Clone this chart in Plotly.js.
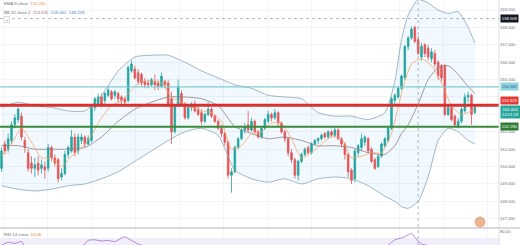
<!DOCTYPE html>
<html>
<head>
<meta charset="utf-8">
<script src="https://cdn.plot.ly/plotly-3.0.1.min.js"></script>
<style>html,body{margin:0;padding:0;background:#fff}#chart{width:520px;height:245px}</style>
</head>
<body>
<div id="chart"></div>
<script>
// ---- DATA ----
const opens  = [149.9,151.3,151.0,151.5,152.4,152.7,152.9,151.5,150.8,150.2,149.9,150.2,149.9,150.0,149.9,151.1,150.5,150.4,149.4,149.6,150.7,150.9,151.7,150.9,151.5,151.7,151.3,151.5,153.4,153.6,154.0,153.8,154.1,154.3,154.1,154.2,154.0,153.9,153.8,155.5,155.6,155.4,155.3,154.9,154.8,154.7,154.9,154.8,154.6,154.9,154.8,153.9,152.0,153.5,154.2,153.6,152.8,153.4,153.6,153.3,153.1,152.6,153.0,153.3,152.9,152.6,152.2,151.9,151.4,149.5,149.7,151.1,151.6,152.1,152.4,152.1,152.6,152.0,151.7,152.2,152.6,153.0,152.8,153.1,152.5,152.0,151.6,150.8,150.4,149.5,150.3,150.7,151.1,150.8,151.3,151.5,151.6,151.9,151.7,152.0,151.8,152.1,151.6,151.3,150.7,149.8,149.3,150.8,151.1,151.4,151.6,151.0,150.4,150.0,150.6,151.2,151.5,152.2,153.8,154.0,154.5,155.1,156.9,157.4,158.0,157.3,156.3,157.0,156.8,156.2,156.5,156.0,155.8,155.8,153.0,153.4,152.9,152.3,152.6,153.2,154.0,154.1,153.1];
const highs  = [151.1,151.5,151.9,152.6,153.0,153.4,153.1,151.7,151.0,150.6,150.5,150.6,150.4,150.3,151.3,151.2,150.7,150.5,149.9,150.9,151.2,152.1,151.9,151.9,151.9,151.8,151.8,153.6,154.0,154.2,154.2,154.3,154.6,154.4,154.4,154.3,154.1,154.0,155.8,156.1,155.8,155.6,155.4,155.1,155.0,155.1,155.3,155.0,155.4,155.0,155.0,154.3,153.6,155.0,154.4,153.7,153.6,153.7,153.8,153.5,153.3,153.1,153.7,153.4,153.0,152.7,152.4,152.0,151.5,149.9,151.2,151.7,152.2,152.5,153.2,152.8,152.7,152.1,152.3,152.8,153.2,153.1,153.3,153.2,152.6,152.1,151.7,151.0,150.5,150.4,150.8,151.1,151.2,151.4,151.6,151.7,151.9,152.0,152.1,152.1,152.3,152.2,151.7,151.4,150.8,149.9,151.0,151.3,151.9,151.8,151.7,151.1,150.5,150.7,151.4,151.7,152.3,154.0,154.2,154.6,155.3,157.0,157.5,158.05,158.1,157.5,157.1,157.1,157.0,156.8,156.7,156.1,155.9,155.9,153.5,153.5,153.0,152.8,153.4,154.2,154.3,154.2,153.5];
const lows   = [149.7,150.7,150.8,151.3,152.2,152.5,151.5,150.8,149.7,149.6,149.4,149.5,149.6,149.3,149.7,150.3,150.0,149.1,149.2,149.5,150.5,150.8,150.6,150.7,151.3,151.1,151.2,151.4,153.2,153.5,153.4,153.6,154.0,153.8,153.9,153.7,153.6,153.6,153.7,155.4,155.0,154.7,154.6,154.5,154.5,154.6,154.4,154.4,154.5,154.5,153.4,151.3,151.9,153.4,153.5,152.7,152.7,153.2,153.1,152.9,152.4,152.5,152.9,152.8,152.5,152.1,151.7,151.2,149.3,148.5,149.6,151.0,151.5,151.9,152.0,152.0,151.9,151.6,151.6,152.1,152.5,152.6,152.7,152.3,151.9,151.4,150.6,150.2,149.3,149.2,150.2,150.6,150.7,150.7,151.2,151.3,151.5,151.6,151.6,151.7,151.7,151.5,151.1,150.4,149.4,149.0,149.1,150.6,150.9,151.2,150.8,150.2,149.8,149.9,150.5,151.1,151.4,152.1,153.6,153.9,154.4,155.0,156.7,157.3,157.1,156.4,156.1,156.3,156.1,156.0,155.7,155.0,154.9,152.9,152.9,152.6,152.3,152.2,152.5,153.1,153.7,152.4,153.0];
const closes = [150.9,150.9,151.6,152.4,152.8,153.3,151.7,151.1,149.9,149.9,150.1,149.8,150.1,149.8,151.1,150.5,150.2,149.3,149.6,150.7,151.1,151.7,150.8,151.7,151.7,151.3,151.6,153.4,153.9,154.0,153.6,154.2,154.4,153.9,154.3,153.9,153.8,153.7,155.7,155.9,155.1,154.9,154.8,154.7,154.7,155.0,154.7,154.6,155.2,154.7,153.6,152.0,153.5,154.6,153.6,152.8,153.4,153.6,153.2,153.0,152.6,153.0,153.3,152.9,152.6,152.2,151.9,151.4,149.5,149.7,151.1,151.6,152.1,152.3,152.1,152.6,152.0,151.7,152.2,152.7,153.0,152.8,153.1,152.5,152.0,151.6,150.8,150.4,149.5,150.3,150.7,151.0,150.8,151.3,151.5,151.6,151.8,151.7,152.0,151.8,152.1,151.6,151.3,150.7,149.7,149.2,150.9,151.2,151.6,151.7,150.9,150.3,149.9,150.6,151.3,151.6,152.2,153.9,154.1,154.5,155.2,156.9,157.4,157.9,157.2,156.5,156.9,156.5,156.3,156.6,155.9,155.2,155.1,153.0,153.4,152.7,152.4,152.6,153.3,154.0,154.1,153.0,153.4];

const bbIdx   = [0,5,10,15,20,25,30,35,40,45,50,55,60,65,70,75,80,85,90,95,100,105,110,115,118,120,122,125,128,131,134,137,140,142];
const bbUpper = [153.4,153.7,153.5,153.4,153.2,153.2,154.1,155.5,156.3,156.4,156.4,156.0,155.5,155.1,154.7,154.5,154.1,154.0,153.9,153.1,152.9,152.9,152.7,153.1,154.9,157.3,158.7,159.6,159.4,159.0,158.8,158.9,158.0,157.1];
const bbBasis = [151.2,151.2,151.0,151.0,151.0,151.1,151.7,152.6,153.3,153.7,154.0,154.0,153.9,153.5,152.3,151.9,151.6,151.7,151.5,151.2,151.2,151.1,150.8,150.7,151.2,151.9,152.4,153.6,155.0,155.7,155.8,155.3,154.6,154.2];
const bbLower = [148.9,148.7,148.6,148.7,148.9,149.0,149.3,149.7,150.3,150.9,151.5,152.0,152.2,151.8,149.8,149.3,149.1,149.3,149.0,149.3,149.4,149.3,148.9,148.3,148.0,147.7,147.6,148.0,149.4,151.5,152.2,152.0,151.5,151.3];

const emaIdx = [0,3,6,9,12,15,18,21,24,27,30,33,36,39,42,45,48,51,54,57,60,63,66,69,72,75,78,81,84,87,90,93,96,99,102,105,108,111,114,117,120,123,126,129,132,135,138,141,142];
const ema9   = [150.6,151.3,152.2,151.4,150.5,150.5,150.0,150.6,151.1,151.8,152.8,153.5,153.8,154.4,154.9,154.9,154.8,154.0,153.7,153.4,153.2,153.1,152.6,151.0,151.2,151.9,152.0,152.5,152.5,151.6,150.5,150.8,151.3,151.7,151.6,150.5,150.6,150.8,150.8,151.9,154.2,155.9,156.2,155.8,154.8,153.5,153.0,153.2,153.2];

const rsiIdx = [0,2,4,6,8,12,16,20,24,26,28,30,32,34,36,37,39,41,44,48,52,56,60,64,68,72,76,80,84,88,92,96,100,104,108,112,116,118,120,122,123,124,126,130,134,138,142];
const rsi14  = [58,63,61,64,45,40,44,50,55,66,67,65,66,64,70,72,66,60,55,57,52,50,48,45,35,50,48,52,47,38,47,52,53,40,48,46,58,67,70,75,78,71,60,55,42,45,50];

// price-axis labels that are visible (154 and 153 are hidden behind the value tags)
const priceTicks = [147,148,149,150,151,152,155,156,157,158,159];
const levelPrices = [154.582, 153.523, 152.290];
const crosshairIndex = 125;
const crosshairPrice = 158.509;
const lastPrice = 153.403;
const lastTime = "14:21:19";
const legendEma = "156.241";
const legendBB = ["153.645", "159.062", "148.228"];
const legendRsi = "63.46";
const rsiTickVals = [80];

// ---- CHART ----
const idx = opens.map((_, i) => i);
const UP = '#26a69a', DN = '#ef5350';
const H = 245, W = 520, PW = 499;
const mainBottom = 17 / H;
const py = y => 1 - y / H;
const YMIN = 146.47, YMAX = 159.575;

const traces = [
  {type:'scatter', x:bbIdx, y:bbLower, mode:'lines', line:{color:'#86a3b9', width:0.8, shape:'spline', smoothing:0.6}, hoverinfo:'skip'},
  {type:'scatter', x:bbIdx, y:bbUpper, mode:'lines', line:{color:'#86a3b9', width:0.8, shape:'spline', smoothing:0.6}, fill:'tonexty', fillcolor:'rgba(33,150,243,0.06)', hoverinfo:'skip'},
  {type:'scatter', x:bbIdx, y:bbBasis, mode:'lines', line:{color:'#8d7f80', width:0.8, shape:'spline', smoothing:0.6}, hoverinfo:'skip'},
  {type:'scatter', x:emaIdx, y:ema9, mode:'lines', line:{color:'#f2a66b', width:0.8, shape:'spline', smoothing:0.6}, hoverinfo:'skip'},
  {type:'candlestick', x:idx, open:opens, high:highs, low:lows, close:closes,
   increasing:{line:{color:UP, width:0.8}, fillcolor:UP},
   decreasing:{line:{color:DN, width:0.8}, fillcolor:DN},
   whiskerwidth:0, hoverinfo:'skip'},
  {type:'scatter', x:rsiIdx, y:rsi14, xaxis:'x', yaxis:'y2', mode:'lines', line:{color:'#9c6fd0', width:0.8, shape:'spline', smoothing:0.6}, hoverinfo:'skip'}
];

const levelColors = ['#7fcdd3', '#d8302f', '#3a8a3a'];
const levelWidths = [1.3, 3, 2];
const shapes = [];
shapes.push({type:'rect', xref:'paper', x0:0, x1:1, yref:'y2', y0:30, y1:70, fillcolor:'rgba(149,117,205,0.13)', line:{width:0}, layer:'below'});
levelPrices.forEach((p, k) => shapes.push({type:'line', xref:'paper', x0:0, x1:1, yref:'y', y0:p, y1:p, line:{color:levelColors[k], width:levelWidths[k]}, layer:'above'}));
shapes.push({type:'line', xref:'paper', x0:0, x1:1, yref:'y', y0:crosshairPrice, y1:crosshairPrice, line:{color:'#9598a1', width:0.7, dash:'dot'}});
shapes.push({type:'line', xref:'x', x0:crosshairIndex, x1:crosshairIndex, yref:'paper', y0:0, y1:1, line:{color:'#9598a1', width:0.7, dash:'dot'}});
shapes.push({type:'line', xref:'paper', x0:0, x1:W/PW, yref:'paper', y0:mainBottom, y1:mainBottom, line:{color:'#b0b3bb', width:1}});
shapes.push({type:'line', xref:'paper', x0:1, x1:1, yref:'paper', y0:0, y1:1, line:{color:'#d1d4dc', width:0.8}});
shapes.push({type:'circle', xref:'paper', yref:'paper', x0:475/PW, x1:485/PW, y0:py(227), y1:py(217), fillcolor:'#e9b48e', line:{color:'#d98f5c', width:0.6}});

const af = (size, color) => ({family:'Liberation Sans, Arial, sans-serif', size:size, color:color});
const ann = [];
function legend(text, ypx){
  ann.push({xref:'paper', yref:'paper', x:2/PW, y:py(ypx), xanchor:'left', yanchor:'middle', text:text, showarrow:false, font:af(4.3,'#6a6d78')});
}
legend('EMA 9 close  <span style="color:#f0883e">' + legendEma + '</span>', 3);
legend('BB 20 close 2  <span style="color:#b0766a">' + legendBB[0] + '</span>  <span style="color:#4f86b4">' + legendBB[1] + '</span>  <span style="color:#4f86b4">' + legendBB[2] + '</span>', 12);
legend('RSI 14 close  <span style="color:#f0883e">' + legendRsi + '</span>', 234);
ann.push({xref:'paper', yref:'paper', x:4/PW, y:py(19.5), xanchor:'left', yanchor:'middle', text:'⌄', showarrow:false, font:af(4.5,'#555'), bordercolor:'#c8cad0', borderwidth:0.6, borderpad:0.5, bgcolor:'#fff'});

function priceLabel(text, ypaper, bg, fg){
  ann.push({xref:'paper', x:1, xanchor:'left', xshift:1, yref:'paper', y:ypaper, yanchor:'middle', text:text, showarrow:false, font:af(4.2, fg), bgcolor:bg, borderpad:0.8});
}
const yFromPrice = p => mainBottom + (p - YMIN) / (YMAX - YMIN) * (1 - mainBottom);
priceLabel(crosshairPrice.toFixed(3), yFromPrice(crosshairPrice), '#131722', '#ffffff');
priceLabel(levelPrices[0].toFixed(3), yFromPrice(levelPrices[0]), '#8fd3dc', '#1f5f8b');
priceLabel(levelPrices[1].toFixed(3), py(100.5), '#e53935', '#ffffff');
priceLabel(lastPrice.toFixed(3) + '<br>' + lastTime, py(111.5), '#26a69a', '#ffffff');
priceLabel(levelPrices[2].toFixed(3), yFromPrice(levelPrices[2]), '#2e7d32', '#ffffff');

const layout = {
  width:W, height:H, margin:{l:0, r:W-PW, t:0, b:0},
  paper_bgcolor:'#ffffff', plot_bgcolor:'#ffffff', showlegend:false,
  xaxis:{range:[-0.45, 149.25], showticklabels:false, ticks:'', showgrid:true, gridcolor:'#eff1f5', gridwidth:0.8,
         tick0:13.8, dtick:13.2, zeroline:false, showline:false, anchor:'y2', rangeslider:{visible:false}, fixedrange:true},
  yaxis:{domain:[mainBottom, 1], range:[YMIN, YMAX], side:'right', tickvals:priceTicks, ticktext:priceTicks.map(v => v.toFixed(3)),
         tickfont:af(4.2,'#6a6d78'), showgrid:false, zeroline:false, ticks:'', showline:false, fixedrange:true},
  yaxis3:{domain:[mainBottom, 1], range:[YMIN, YMAX], overlaying:'y', dtick:1, showticklabels:false, gridcolor:'#eff1f5', gridwidth:0.8, zeroline:false, ticks:'', fixedrange:true},
  yaxis2:{domain:[0, mainBottom], range:[58.3, 86.7], side:'right', tickvals:rsiTickVals, ticktext:rsiTickVals.map(v => v.toFixed(2)),
          tickfont:af(4.2,'#6a6d78'), showgrid:false, zeroline:false, ticks:'', showline:false, fixedrange:true},
  shapes:shapes, annotations:ann, hovermode:false
};
// an empty trace so that the grid-only axis (one line per price unit) is drawn
traces.unshift({type:'scatter', x:[], y:[], yaxis:'y3', hoverinfo:'skip'});

Plotly.newPlot('chart', traces, layout, {staticPlot:true, displayModeBar:false});
</script>
</body>
</html>
